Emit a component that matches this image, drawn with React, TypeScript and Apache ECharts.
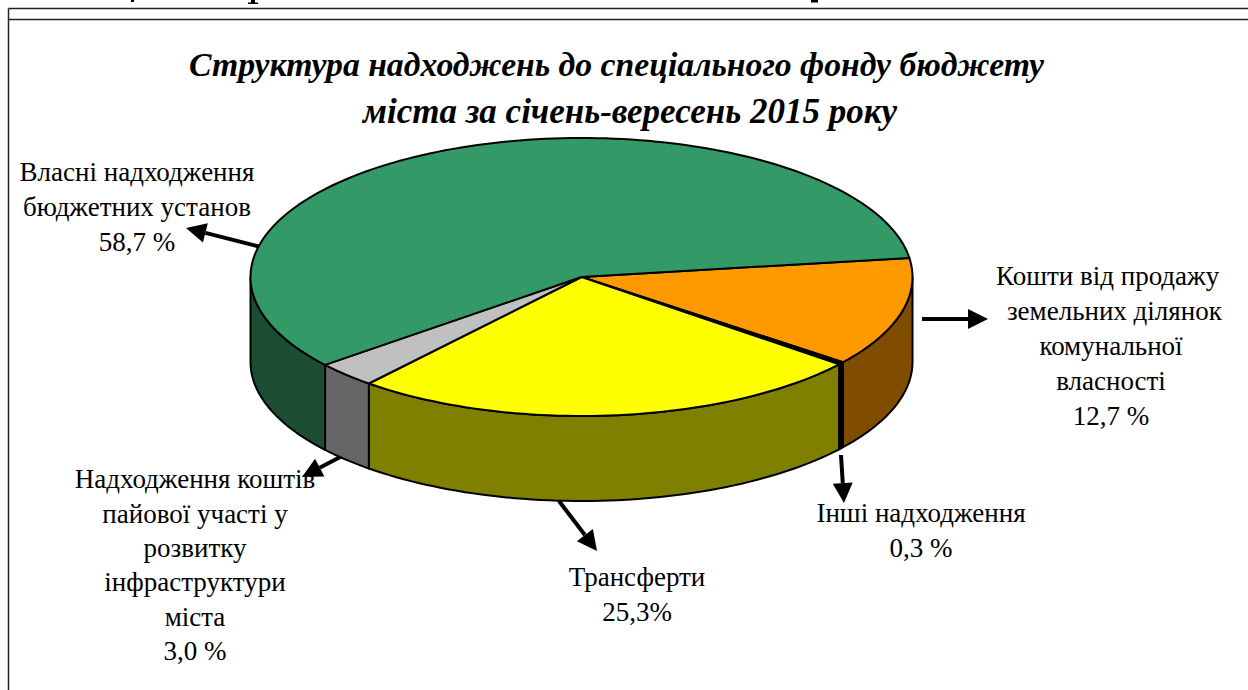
import React, { useEffect, useRef } from "react";
import * as echarts from "echarts";

const sliceNames = ["Кошти від продажу земельних ділянок комунальної власності", "Інші надходження", "Трансферти", "Надходження коштів пайової участі у розвитку інфраструктури міста", "Власні надходження бюджетних установ"];
const sliceValues = [12.7, 0.3, 25.3, 3.0, 58.7];
const topColors = ["#FF9900", "#000000", "#FFFF00", "#C0C0C0", "#339966"];
const sideColors = ["#804D00", "#000000", "#808000", "#666666", "#1B4D33"];
const titleLines = ["Структура надходжень до спеціального фонду бюджету", "міста за січень-вересень 2015 року"];

const labelTexts = [
  "Кошти від продажу \n земельних ділянок\nкомунальної\nвласності\n12,7 %",
  "Інші надходження\n0,3 %",
  "Трансферти\n25,3%",
  "Надходження коштів\nпайової участі у\nрозвитку\nінфраструктури\nміста\n3,0 %",
  "Власні надходження\nбюджетних установ\n58,7 %",
];

const CX = 581.5, CY = 277, RX = 331, RY = 139, DEPTH = 85;
const START_DEG = -7.9;
const FONT = '"Liberation Serif", "Times New Roman", serif';

function ringPoints(a0: number, a1: number, dy: number, reverse = false) {
  const n = Math.max(2, Math.ceil(Math.abs(a1 - a0) / 1.5));
  const pts: number[][] = [];
  for (let i = 0; i <= n; i++) {
    const t = (a0 + ((a1 - a0) * i) / n) * (Math.PI / 180);
    pts.push([CX + RX * Math.cos(t), CY + dy + RY * Math.sin(t)]);
  }
  return reverse ? pts.reverse() : pts;
}

function renderSlice(params: any, api: any) {
  const idx = params.dataIndex;
  let acc = 0;
  for (let i = 0; i < idx; i++) acc += sliceValues[i];
  const total = sliceValues.reduce((a, b) => a + b, 0);
  const a0 = START_DEG + (acc / total) * 360;
  const a1 = a0 + (api.value(0) / total) * 360;
  const children: any[] = [];
  const wallFrom = Math.max(a0, 0);
  const wallTo = Math.min(a1, 180);
  if (wallTo > wallFrom) {
    children.push({
      type: "polygon",
      shape: { points: [...ringPoints(wallFrom, wallTo, 0), ...ringPoints(wallFrom, wallTo, DEPTH, true)] },
      style: { fill: sideColors[idx], stroke: "#000", lineWidth: 2, lineJoin: "round" },
    });
  }
  children.push({
    type: "polygon",
    shape: { points: [[CX, CY], ...ringPoints(a0, a1, 0)] },
    style: { fill: topColors[idx], stroke: "#000", lineWidth: 2, lineJoin: "round" },
  });
  return { type: "group", children };
}

function arrow(x0: number, y0: number, x1: number, y1: number) {
  const len = Math.hypot(x1 - x0, y1 - y0);
  const ux = (x1 - x0) / len, uy = (y1 - y0) / len;
  const hl = 20, hw = 10;
  const bx = x1 - ux * hl, by = y1 - uy * hl;
  return [
    { type: "line", shape: { x1: x0, y1: y0, x2: bx, y2: by }, style: { stroke: "#000", lineWidth: 4 } },
    {
      type: "polygon",
      shape: { points: [[x1, y1], [bx - uy * hw, by + ux * hw], [bx + uy * hw, by - ux * hw]] },
      style: { fill: "#000" },
    },
  ];
}

function label(text: string, x: number, y: number, lineHeight = 35.2) {
  return {
    type: "text",
    x,
    y,
    style: { text, fill: "#000", font: `27px ${FONT}`, align: "center", verticalAlign: "top", lineHeight },
  };
}

// Unreadable remains of the page's cropped line above the frame
function fragment(x: number, y: number, width: number, height: number) {
  return { type: "rect", shape: { x, y, width, height }, style: { fill: "#000" } };
}

export default function App() {
  const ref = useRef<HTMLDivElement>(null);
  useEffect(() => {
    document.body.style.margin = "0";
    const chart = echarts.init(ref.current!, undefined, { renderer: "svg" });
    const frame = { stroke: "#222", lineWidth: 1.5 };
    const titleStyle = { fontFamily: FONT, fontWeight: "bold", fontStyle: "italic", color: "#000" };
    chart.setOption({
      animation: false,
      backgroundColor: "#fff",
      title: [
        { text: titleLines[0], left: 611.5, top: 42, textAlign: "center", textStyle: { ...titleStyle, fontSize: 33.7 } },
        { text: titleLines[1], left: 625, top: 89, textAlign: "center", textStyle: { ...titleStyle, fontSize: 35 } },
      ],
      series: [
        {
          type: "custom",
          coordinateSystem: "none",
          silent: true,
          data: sliceValues.map((v, i) => ({ name: sliceNames[i], value: [v] })),
          renderItem: renderSlice,
        },
      ],
      graphic: [
        { type: "line", shape: { x1: 8.5, y1: 8.5, x2: 1248, y2: 8.5 }, style: frame },
        { type: "line", shape: { x1: 8.5, y1: 19.5, x2: 1248, y2: 19.5 }, style: frame },
        { type: "line", shape: { x1: 8.5, y1: 8.5, x2: 8.5, y2: 690 }, style: frame },
        fragment(131, 0, 3, 2),
        fragment(251, 0, 4, 3),
        fragment(248, 2.5, 10, 1.5),
        fragment(811, 0, 7, 2.5),
        ...arrow(259, 246.5, 186, 228),
        ...arrow(922, 319, 988, 319),
        ...arrow(841, 455, 844, 503),
        ...arrow(559, 501, 597, 551),
        ...arrow(344, 455, 302, 477),
        label(labelTexts[0], 1111, 259, 34.9),
        label(labelTexts[1], 921, 495),
        label(labelTexts[2], 637, 559),
        label(labelTexts[3], 195, 462, 34.4),
        label(labelTexts[4], 137, 154),
      ],
    });
    return () => chart.dispose();
  }, []);
  return <div ref={ref} style={{ width: 1248, height: 690 }} />;
}
